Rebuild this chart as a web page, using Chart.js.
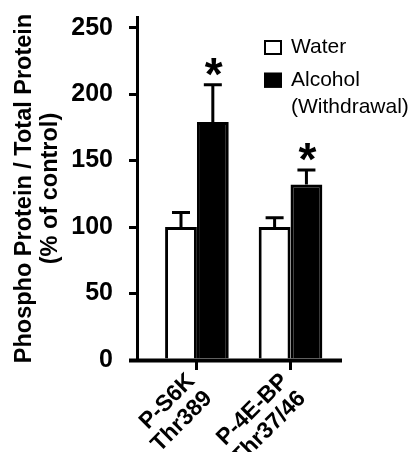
<!DOCTYPE html>
<html><head><meta charset="utf-8">
<script src="https://cdn.jsdelivr.net/npm/chart.js@4/dist/chart.umd.min.js"></script>
<style>html,body{margin:0;padding:0;background:#fff}#wrap{width:410px;height:452px;position:relative}</style>
</head><body><div id="wrap"><canvas id="c"></canvas></div>
<script>
// ---- data ----
const categories = [["P-S6K", "Thr389"], ["P-4E-BP", "Thr37/46"]];
const categoryPositions = [1, 2];
const seriesNames = ["Water", "Alcohol (Withdrawal)"];
const legendLines = [["Water"], ["Alcohol", "(Withdrawal)"]];
const waterValues = [100, 100];
const waterErrors = [11, 7];
const waterSignificant = [false, false];
const alcoholValues = [179, 132];
const alcoholErrors = [28, 11];
const alcoholSignificant = [true, true];
const yTicks = [0, 50, 100, 150, 200, 250];
const yTitle = ["Phospho Protein / Total Protein", "(% of control)"];

const FONT = "'Liberation Sans', Arial, Helvetica, sans-serif";

const toPoints = (vals) => vals.map((v, i) => ({ x: categoryPositions[i], y: v }));

const errorBarPlugin = {
  id: 'errorBars',
  afterDatasetsDraw(chart) {
    const ctx = chart.ctx;
    const y = chart.scales.y;
    ctx.save();
    chart.data.datasets.forEach((ds, i) => {
      const meta = chart.getDatasetMeta(i);
      meta.data.forEach((bar, j) => {
        const v = ds.data[j].y, e = ds.errors[j];
        const yTop = y.getPixelForValue(v + e);
        const yBase = y.getPixelForValue(v);
        ctx.strokeStyle = '#000';
        ctx.lineWidth = 3;
        ctx.beginPath();
        ctx.moveTo(bar.x, yBase);
        ctx.lineTo(bar.x, yTop);
        ctx.moveTo(bar.x - 9, yTop);
        ctx.lineTo(bar.x + 9, yTop);
        ctx.stroke();
        if (ds.significant[j]) {
          ctx.font = 'bold 46px ' + FONT;
          ctx.fillStyle = '#000';
          ctx.textAlign = 'center';
          ctx.textBaseline = 'alphabetic';
          const m = ctx.measureText('*');
          const cy = yTop - 17.5;
          ctx.fillText('*', bar.x + 1, cy + (m.actualBoundingBoxAscent - m.actualBoundingBoxDescent) / 2);
        }
      });
    });
    // x axis line, extended to the left like the y tick marks
    const y0 = y.getPixelForValue(0) + 0.5;
    ctx.lineWidth = 4;
    ctx.beginPath();
    ctx.moveTo(chart.chartArea.left - 8, y0);
    ctx.lineTo(chart.chartArea.right, y0);
    ctx.stroke();
    ctx.restore();
  }
};

const legendPlugin = {
  id: 'customLegend',
  afterDraw(chart) {
    const ctx = chart.ctx;
    const o = chart.options.plugins.customLegend;
    ctx.save();
    ctx.font = o.fontSize + 'px ' + FONT;
    ctx.textBaseline = 'alphabetic';
    ctx.textAlign = 'left';
    chart.data.datasets.forEach((ds, i) => {
      const base = o.y + i * o.rowStep;
      ctx.fillStyle = ds.backgroundColor;
      ctx.fillRect(o.x, base - 13.3, o.boxW, o.boxH);
      ctx.strokeStyle = '#000';
      ctx.lineWidth = 2;
      ctx.strokeRect(o.x + 1, base - 12.3, o.boxW - 2, o.boxH - 2);
      ctx.fillStyle = '#000';
      legendLines[i].forEach((t, k) => ctx.fillText(t, o.textX, base + k * o.lineH));
    });
    ctx.restore();
  }
};

new Chart(document.getElementById('c'), {
  type: 'bar',
  data: {
    datasets: [
      { label: seriesNames[0], data: toPoints(waterValues), errors: waterErrors, significant: waterSignificant,
        backgroundColor: '#ffffff', borderColor: '#000000', borderWidth: 3 },
      { label: seriesNames[1], data: toPoints(alcoholValues), errors: alcoholErrors, significant: alcoholSignificant,
        backgroundColor: '#000000', borderColor: '#000000', borderWidth: 3 }
    ]
  },
  options: {
    responsive: true,
    maintainAspectRatio: false,
    animation: false,
    datasets: { bar: { categoryPercentage: 0.68, barPercentage: 1.0 } },
    layout: { padding: { top: 17, right: 68, left: 0, bottom: 0 } },
    plugins: {
      legend: { display: false },
      tooltip: { enabled: false },
      customLegend: { x: 264, y: 53.3, rowStep: 32.7, boxW: 18, boxH: 15, textX: 291, lineH: 27, fontSize: 21 }
    },
    scales: {
      x: {
        type: 'linear',
        offset: false,
        min: 0.36,
        max: 2.55,
        afterBuildTicks: (s) => { s.ticks = categoryPositions.map(v => ({ value: v })); },
        afterFit: (s) => { s.height = 92; s.paddingLeft = 0; s.paddingRight = 0; },
        border: { display: false },
        grid: { offset: false, drawOnChartArea: false, drawTicks: true, tickLength: 10, lineWidth: 3, color: '#000' },
        ticks: {
          autoSkip: false,
          minRotation: 45, maxRotation: 45,
          labelOffset: -5.6,
          padding: -1,
          color: '#000',
          font: { family: FONT, size: 23, weight: 'bold', lineHeight: 1.06 },
          callback: (v, i) => categories[i]
        }
      },
      y: {
        min: 0,
        max: 258,
        afterBuildTicks: (s) => { s.ticks = yTicks.map(v => ({ value: v })); },
        afterFit: (s) => { s.width = 137; s.paddingTop = 0; s.paddingBottom = 0; },
        border: { display: true, width: 3, color: '#000' },
        grid: { drawOnChartArea: false, drawTicks: true, tickLength: 8, lineWidth: 3, color: '#000' },
        ticks: { padding: 16, color: '#000', font: { family: FONT, size: 25, weight: 'bold' } },
        title: {
          display: true,
          text: yTitle,
          color: '#000',
          padding: { top: 11, bottom: 8 },
          font: { family: FONT, size: 23.5, weight: 'bold', lineHeight: 1.11 }
        }
      }
    }
  },
  plugins: [errorBarPlugin, legendPlugin]
});
</script>
</body></html>
